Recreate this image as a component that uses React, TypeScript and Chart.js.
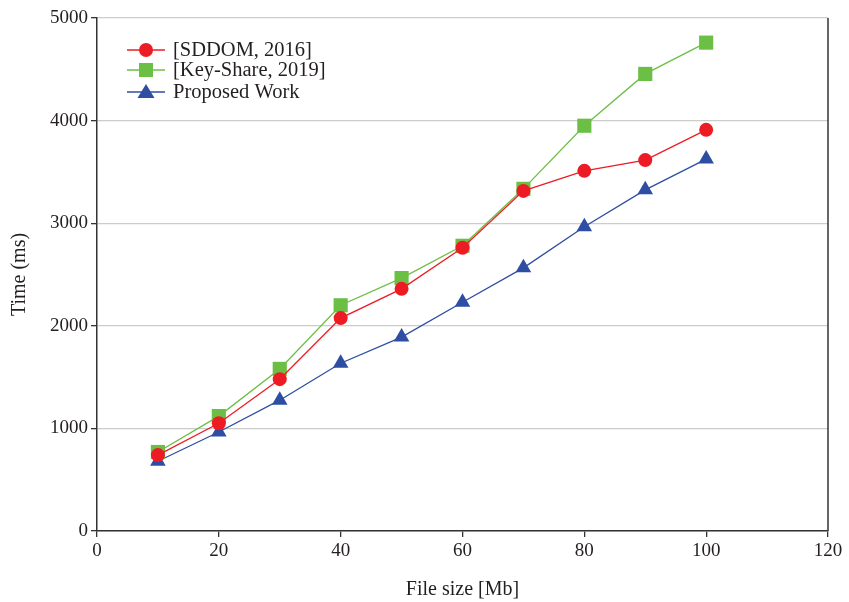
import React, { useEffect, useRef } from "react";
import { Chart, registerables } from "chart.js";

Chart.register(...registerables);

const fileSizes = [10, 20, 30, 40, 50, 60, 70, 80, 90, 100];
const sddom = [740, 1050, 1480, 2075, 2360, 2760, 3315, 3510, 3615, 3910];
const keyShare = [770, 1120, 1580, 2200, 2465, 2780, 3335, 3950, 4455, 4760];
const proposed = [680, 965, 1275, 1635, 1890, 2230, 2565, 2965, 3325, 3625];
const seriesNames = ["[SDDOM, 2016]", "[Key-Share, 2019]", "Proposed Work"];
const xTicks = [0, 20, 40, 60, 80, 100, 120];
const yTicks = [0, 1000, 2000, 3000, 4000, 5000];

const FONT = "'Liberation Serif', 'DejaVu Serif', serif";
const RED = "#ed1c24";
const GREEN = "#6cbf45";
const BLUE = "#2e4ea3";
const AXIS = "#333333";
const TEXT = "#231f20";

const frameAndLegend = {
  id: "frameAndLegend",
  afterDraw(chart: any) {
    const { ctx, chartArea } = chart;
    ctx.save();
    ctx.strokeStyle = AXIS;
    ctx.lineWidth = 1.5;
    ctx.beginPath();
    ctx.moveTo(chartArea.right, chartArea.top);
    ctx.lineTo(chartArea.right, chartArea.bottom);
    ctx.stroke();

    const x0 = chartArea.left + 30;
    const rows = [chartArea.top + 32, chartArea.top + 52, chartArea.top + 74];
    chart.data.datasets.forEach((ds: any, i: number) => {
      const y = rows[i];
      ctx.strokeStyle = ds.borderColor;
      ctx.lineWidth = 1.3;
      ctx.beginPath();
      ctx.moveTo(x0, y);
      ctx.lineTo(x0 + 38, y);
      ctx.stroke();
      const cx = x0 + 19;
      ctx.fillStyle = ds.pointBackgroundColor;
      ctx.beginPath();
      if (ds.pointStyle === "circle") {
        ctx.arc(cx, y, 7, 0, Math.PI * 2);
      } else if (ds.pointStyle === "rect") {
        ctx.rect(cx - 7, y - 7, 14, 14);
      } else {
        ctx.moveTo(cx, y - 8);
        ctx.lineTo(cx + 8.5, y + 6);
        ctx.lineTo(cx - 8.5, y + 6);
        ctx.closePath();
      }
      ctx.fill();
      ctx.fillStyle = TEXT;
      ctx.font = `20.5px ${FONT}`;
      ctx.textBaseline = "middle";
      ctx.textAlign = "left";
      ctx.fillText(ds.label, x0 + 46, y + 1);
    });
    ctx.restore();
  },
};

export default function App() {
  const ref = useRef<HTMLCanvasElement | null>(null);
  useEffect(() => {
    document.body.style.margin = "0";
    const mk = (label: string, data: number[], color: string, style: string, r: number) => ({
      label,
      data: data.map((v, i) => ({ x: fileSizes[i], y: v })),
      borderColor: color,
      backgroundColor: color,
      pointBackgroundColor: color,
      pointBorderColor: color,
      pointBorderWidth: 0,
      pointStyle: style,
      pointRadius: r,
      borderWidth: 1.3,
      tension: 0,
    });
    const chart = new Chart(ref.current as HTMLCanvasElement, {
      type: "line",
      data: {
        datasets: [
          mk(seriesNames[0], sddom, RED, "circle", 7),
          mk(seriesNames[1], keyShare, GREEN, "rect", 10),
          mk(seriesNames[2], proposed, BLUE, "triangle", 9),
        ],
      },
      options: {
        animation: false,
        responsive: false,
        maintainAspectRatio: false,
        layout: { padding: { top: 18, right: 21, left: 0, bottom: 0 } },
        plugins: { legend: { display: false }, tooltip: { enabled: false } },
        scales: {
          x: {
            type: "linear",
            min: 0,
            max: 120,
            afterBuildTicks: (axis: any) => {
              axis.ticks = xTicks.map((v) => ({ value: v }));
            },
            afterFit: (axis: any) => {
              axis.height = 71;
            },
            ticks: {
              color: TEXT,
              font: { family: FONT, size: 19 },
              padding: 3,
              maxRotation: 0,
              callback: (v: any) => String(v),
            },
            grid: { drawOnChartArea: false, drawTicks: true, tickLength: 6, tickColor: AXIS, lineWidth: 1.3 },
            border: { color: AXIS, width: 1.5 },
            title: {
              display: true,
              text: "File size [Mb]",
              color: TEXT,
              font: { family: FONT, size: 20 },
              padding: { top: 8, bottom: 0 },
            },
          },
          y: {
            type: "linear",
            min: 0,
            max: 5000,
            afterBuildTicks: (axis: any) => {
              axis.ticks = yTicks.map((v) => ({ value: v }));
            },
            afterFit: (axis: any) => {
              axis.width = 97;
            },
            ticks: {
              color: TEXT,
              font: { family: FONT, size: 19 },
              padding: 3,
              callback: (v: any) => String(v),
            },
            grid: { color: "#cccccc", lineWidth: 1.3, drawTicks: true, tickLength: 6, tickColor: AXIS },
            border: { color: AXIS, width: 1.5 },
            title: {
              display: true,
              text: "Time (ms)",
              color: TEXT,
              font: { family: FONT, size: 20 },
              padding: { top: 8, bottom: 0 },
            },
          },
        },
      },
      plugins: [frameAndLegend],
    } as any);
    return () => chart.destroy();
  }, []);
  return (
    <div style={{ position: "absolute", left: 0, top: 0, width: 849, height: 602, background: "#fff" }}>
      <canvas ref={ref} width={849} height={602} style={{ width: 849, height: 602, display: "block" }} />
    </div>
  );
}
